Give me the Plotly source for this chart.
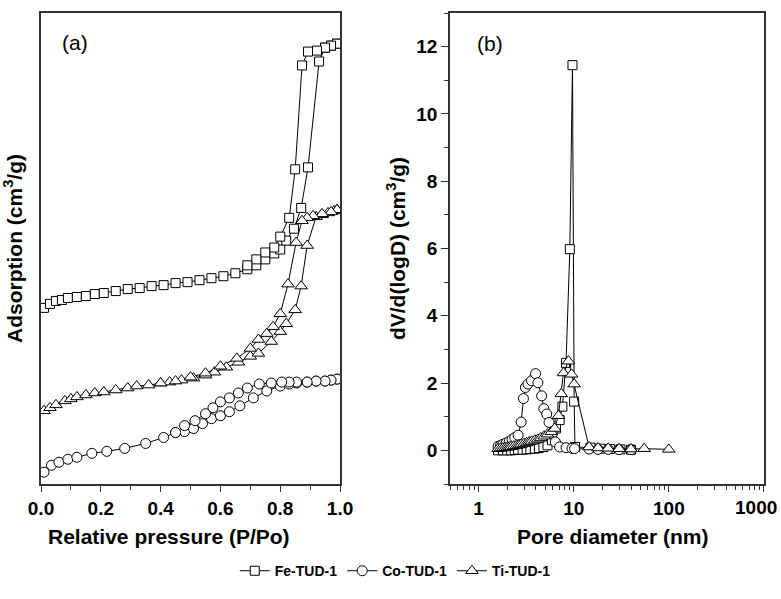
import plotly.graph_objects as go

# --- Data: (a) N2 isotherms, relative pressure vs adsorbed amount (arbitrary units) ---
fe_ads_p = [0.01, 0.03, 0.05, 0.07, 0.09, 0.12, 0.15, 0.18, 0.21, 0.25, 0.29, 0.33, 0.37, 0.41,
            0.45, 0.49, 0.53, 0.57, 0.61, 0.65, 0.69, 0.72, 0.75, 0.78, 0.80, 0.82, 0.846, 0.87,
            0.893, 0.93, 0.95, 0.97, 0.99]
fe_ads_v = [178, 182, 185, 186, 188, 189, 190, 192, 193, 195, 197, 198, 200, 201,
            203, 204, 206, 208, 210, 213, 217, 221, 227, 233, 237, 246, 258, 279,
            320, 427, 441, 443, 445]
fe_des_p = [0.99, 0.97, 0.95, 0.923, 0.893, 0.873, 0.85, 0.83, 0.80, 0.78, 0.75, 0.72, 0.69]
fe_des_v = [445, 443, 441, 438, 437, 423, 318, 269, 250, 239, 234, 227, 221]

co_ads_p = [0.01, 0.035, 0.06, 0.09, 0.12, 0.17, 0.22, 0.28, 0.35, 0.41, 0.45, 0.48, 0.51, 0.54,
            0.57, 0.60, 0.63, 0.665, 0.71, 0.755, 0.80, 0.83, 0.855, 0.89, 0.92, 0.95, 0.97, 0.99]
co_ads_v = [12, 19, 22, 25, 27, 31, 33, 36, 41, 47, 52, 53, 56, 61,
            66, 69, 73, 79, 87, 94, 99, 101, 102, 103, 104, 104, 105, 106]
co_des_p = [0.99, 0.97, 0.95, 0.92, 0.89, 0.855, 0.83, 0.805, 0.77, 0.73, 0.69, 0.66, 0.63,
            0.60, 0.575, 0.55, 0.515, 0.48, 0.45]
co_des_v = [106, 105, 104, 104, 103, 103, 103, 103, 102, 101, 97, 92, 87,
            83, 77, 71, 64, 59, 52]

ti_ads_p = [0.01, 0.03, 0.05, 0.08, 0.10, 0.12, 0.15, 0.18, 0.21, 0.25, 0.29, 0.32, 0.36, 0.40,
            0.43, 0.47, 0.51, 0.55, 0.58, 0.62, 0.66, 0.70, 0.727, 0.77, 0.80, 0.82, 0.85, 0.87,
            0.89, 0.92, 0.94, 0.96, 0.98, 0.99]
ti_ads_v = [74, 77, 80, 84, 86, 88, 90, 92, 93, 95, 97, 99, 100, 102,
            103, 105, 107, 110, 113, 118, 123, 129, 132, 144, 154, 162, 176, 200,
            241, 270, 272, 274, 276, 277]
ti_des_p = [0.99, 0.97, 0.94, 0.91, 0.89, 0.873, 0.853, 0.826, 0.80, 0.776, 0.755, 0.727, 0.70,
            0.655, 0.60, 0.55, 0.50, 0.45, 0.40]
ti_des_v = [277, 275, 273, 271, 269, 266, 244, 202, 172, 159, 152, 146, 137,
            127, 119, 112, 108, 104, 102]

# --- Data: (b) pore size distributions ---
fe_d = [1.6, 1.8, 2.0, 2.2, 2.4, 2.6, 2.9, 3.2, 3.5, 3.9, 4.3, 4.8, 5.3, 5.9, 6.5, 7.1, 7.6,
        8.3, 9.1, 9.7, 10.1, 10.3, 15, 19, 24, 31, 40]
fe_dv = [0.0, 0.0, 0.0, 0.0, 0.01, 0.02, 0.02, 0.03, 0.04, 0.05, 0.07, 0.1, 0.15, 0.3, 0.65, 0.9,
         1.3, 2.6, 5.98, 11.45, 1.45, 0.1, 0.08, 0.05, 0.04, 0.03, 0.02]

co_d = [1.6, 1.7, 1.8, 1.95, 2.1, 2.25, 2.4, 2.6, 2.8, 2.96, 3.1, 3.3, 3.6, 3.97, 4.2, 4.6,
        4.85, 5.2, 5.5, 5.96, 6.4, 7.1, 8.3, 9.6, 10.2, 14.5, 18, 23, 30, 40]
co_dv = [0.12, 0.15, 0.18, 0.22, 0.27, 0.33, 0.38, 0.45, 0.84, 1.54, 1.87, 1.97, 2.07, 2.28, 2.01,
         1.62, 1.24, 1.08, 0.83, 0.5, 0.25, 0.1, 0.08, 0.06, 0.05, 0.04, 0.03, 0.03, 0.02, 0.02]

ti_d = [1.6, 1.7, 1.8, 1.9, 2.0, 2.1, 2.2, 2.35, 2.5, 2.65, 2.8, 3.0, 3.2, 3.4, 3.6, 3.9, 4.2,
        4.5, 4.9, 5.3, 5.8, 6.3, 6.9, 7.4, 7.8, 8.8, 9.5, 10.1, 14.5, 18, 23, 30, 40, 55, 100]
ti_dv = [0.05, 0.06, 0.07, 0.08, 0.09, 0.1, 0.11, 0.13, 0.14, 0.16, 0.18, 0.2, 0.22, 0.25, 0.27,
         0.3, 0.33, 0.37, 0.42, 0.48, 0.55, 0.65, 1.03, 1.68, 2.3, 2.65, 2.26, 1.97, 0.1, 0.07,
         0.06, 0.05, 0.04, 0.05, 0.03]

d_ticks = [1, 10, 100, 1000]
d_ticklabels = ["1", "10", "100", "1000"]

names = ["Fe-TUD-1", "Co-TUD-1", "Ti-TUD-1"]
symbols = ["square", "circle", "triangle-up"]
sizes = [9, 10, 11]

iso = [(fe_ads_p + fe_des_p, fe_ads_v + fe_des_v),
       (co_ads_p + co_des_p, co_ads_v + co_des_v),
       (ti_ads_p + ti_des_p, ti_ads_v + ti_des_v)]
psd = [(fe_d, fe_dv), (co_d, co_dv), (ti_d, ti_dv)]

FONT = "Liberation Sans, Arial, sans-serif"
AX = "#333333"

fig = go.Figure()
for i, name in enumerate(names):
    marker = dict(symbol=symbols[i], size=sizes[i], color="white",
                  line=dict(color="black", width=1))
    fig.add_trace(go.Scatter(x=iso[i][0], y=iso[i][1], mode="lines+markers", name=name,
                             line=dict(color="black", width=1), marker=marker,
                             xaxis="x", yaxis="y", legendgroup=name))
    fig.add_trace(go.Scatter(x=psd[i][0], y=psd[i][1], mode="lines+markers", name=name,
                             line=dict(color="black", width=1), marker=marker,
                             xaxis="x2", yaxis="y2", legendgroup=name, showlegend=False))

tickf = dict(family=FONT, size=19, color="black", weight="bold")
titlef = dict(family=FONT, size=21, color="black", weight="bold")
common = dict(showline=True, linecolor=AX, linewidth=1.5, mirror=True, showgrid=False,
              zeroline=False, automargin=False, tickfont=tickf,
              tickcolor=AX, tickwidth=1.2)

# the last log label sits flush with the right page edge, as in the original
edge_label = d_ticklabels[-1]
shown_labels = d_ticklabels[:-1] + [""]

fig.update_layout(
    width=781, height=599,
    margin=dict(l=41, r=17, t=13, b=110),
    paper_bgcolor="white", plot_bgcolor="white",
    font=dict(family=FONT, color="black"),
    xaxis=dict(domain=[0, 0.4136], range=[0, 1], dtick=0.2, tickformat=".1f",
               ticks="outside", ticklen=6,
               minor=dict(dtick=0.1, ticks="outside", ticklen=4, tickcolor=AX),
               anchor="y", **common),
    yaxis=dict(domain=[0, 1], range=[0, 476], showticklabels=False, ticks="",
               title=dict(text="Adsorption (cm<sup>3</sup>/g)", font=titlef, standoff=16),
               anchor="x", **common),
    xaxis2=dict(domain=[0.5657, 1], type="log", range=[-0.30103, 3.0005],
                tickvals=d_ticks, ticktext=shown_labels,
                ticks="outside", ticklen=6,
                minor=dict(dtick="D1", ticks="outside", ticklen=4, tickcolor=AX),
                anchor="y2", **common),
    yaxis2=dict(domain=[0, 1], range=[-1, 13], dtick=2, ticks="outside", ticklen=7,
                minor=dict(dtick=1, ticks="outside", ticklen=4, tickcolor=AX),
                title=dict(text="dV/d(logD) (cm<sup>3</sup>/g)", font=titlef, standoff=5),
                anchor="x2", **common),
    legend=dict(orientation="h", x=0.49, xanchor="center", y=-0.185, yanchor="middle",
                font=dict(family=FONT, size=14, color="black", weight="bold"),
                itemwidth=30, tracegroupgap=0, bgcolor="rgba(0,0,0,0)"),
    annotations=[
        dict(text="(a)", xref="x domain", yref="y domain", x=0.114, y=0.937,
             xanchor="center", yanchor="middle", showarrow=False,
             font=dict(family=FONT, size=21, color="black")),
        dict(text="(b)", xref="x2 domain", yref="y2 domain", x=0.127, y=0.935,
             xanchor="center", yanchor="middle", showarrow=False,
             font=dict(family=FONT, size=21, color="black")),
        dict(text="Relative pressure (P/Po)", xref="paper", yref="paper", x=0.177, y=-0.111,
             xanchor="center", yanchor="middle", showarrow=False, font=titlef),
        dict(text="Pore diameter (nm)", xref="paper", yref="paper", x=0.790, y=-0.111,
             xanchor="center", yanchor="middle", showarrow=False, font=titlef),
        dict(text=edge_label, xref="paper", yref="paper", x=1.0207, y=-0.05,
             xanchor="right", yanchor="middle", showarrow=False, font=tickf),
    ],
)

# drop the browser's default page margin so the figure fills the window exactly
fig.write_html("out.html", config={"displayModeBar": False},
               post_script="document.body.style.margin='0';")
